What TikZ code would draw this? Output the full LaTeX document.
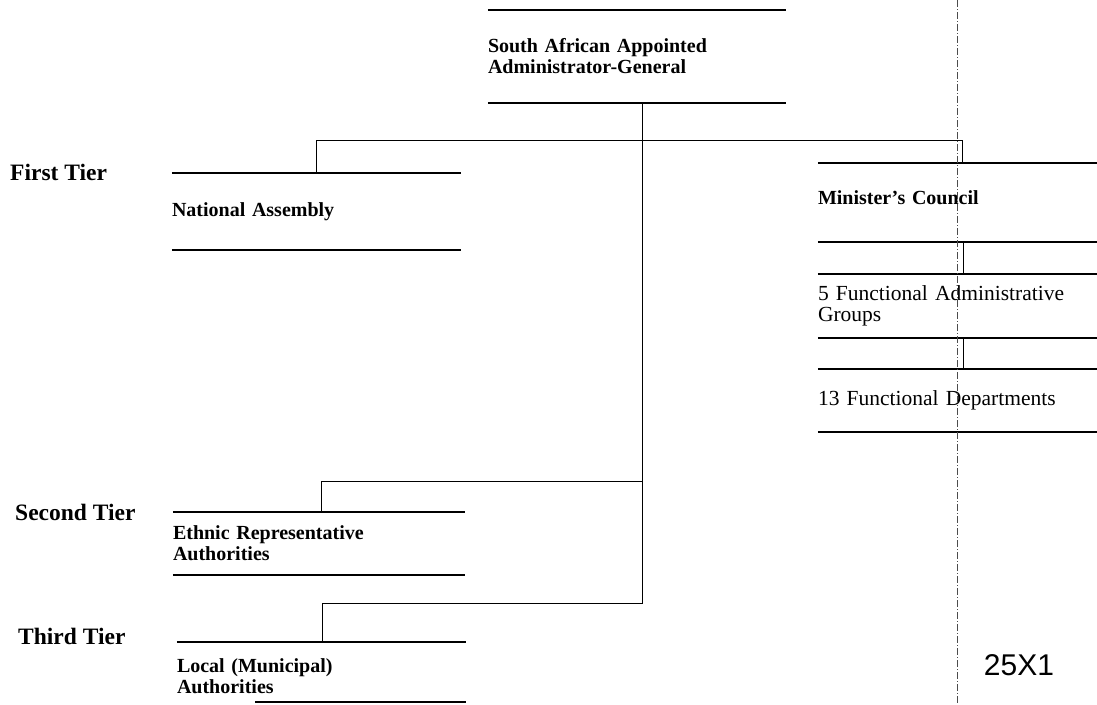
\documentclass[tikz,border=0pt]{standalone}
\usepackage{fontspec}
\setmainfont{Liberation Serif}
\newfontfamily\stampfont{Liberation Sans}
\usetikzlibrary{positioning}

\begin{document}
\begin{tikzpicture}[x=1pt, y=-1pt,
  unit/.style={inner sep=0pt, align=left, font=\bfseries\fontsize{20}{21}\selectfont},
  plainunit/.style={unit, font=\fontsize{21.5}{20.5}\selectfont},
  tier/.style={anchor=west, inner sep=0pt, font=\bfseries\fontsize{23.5}{25}\selectfont},
  bar/.style={line width=1.5pt},
  link/.style={line width=0.8pt},
  scanline/.style={line width=0.5pt, black!70, dash pattern=on 7pt off 2pt on 1pt off 2pt}]
  \useasboundingbox (0,0) rectangle (1097,704);
  % units
  \node[unit, text width=298, minimum height=93] (ag) at (637,56.5) {South African Appointed\\Administrator-General};
  \node[unit, text width=289, minimum height=77] (na) at (316.5,211.5) {National Assembly};
  \node[unit, text width=279, minimum height=79] (mc) at (957.5,202.5) {Minister's Council\rule[-10pt]{0pt}{10pt}};
  \node[plainunit, text width=279, minimum height=64] (fag) at (957.5,306) {5 Functional Administrative\\Groups};
  \node[plainunit, text width=279, minimum height=63] (fd) at (957.5,400.5) {13 Functional Departments};
  \node[unit, text width=292, minimum height=63] (era) at (319,543.5) {Ethnic Representative\\Authorities};
  \node[unit, text width=289, minimum height=60] (loc) at (321.5,672) {\rule{0pt}{23pt}Local (Municipal)\\Authorities};
  % tiers
  \node[tier] (t1) at (10,172) {First Tier};
  \node[tier] (t2) at (15,512) {Second Tier};
  \node[tier] (t3) at (18,636) {Third Tier};
  \node[font=\stampfont\fontsize{30}{30}\selectfont, inner sep=0pt] (stamp) at (1019,665) {25X1};
  % rules above and below each unit
  \foreach \u in {ag,na,mc,fag,fd,era}
    \draw[bar] (\u.north west) -- (\u.north east) (\u.south west) -- (\u.south east);
  \draw[bar] (loc.north west) -- (loc.north east);
  \draw[bar] (loc.south east) ++(-211,0) -- (loc.south east);
  % joints
  \coordinate (c1) at (316,140);
  \coordinate (c2) at (962,140);
  \coordinate (c3) at (321,481);
  \coordinate (c4) at (322,603);
  \coordinate (spine) at (642,603);
  \coordinate (rx) at (963,0);
  % connectors
  \draw[link] (na.north -| c1) -- (c1) -- (c2) -- (mc.north -| c2);
  \draw[link] (ag.south -| spine) -- (spine) -- (c4) -- (loc.north -| c4);
  \draw[link] (era.north -| c3) -- (c3) -- (c3 -| spine);
  \draw[link] (mc.south -| rx) -- (fag.north -| rx);
  \draw[link] (fag.south -| rx) -- (fd.north -| rx);
  % fold mark of the scan
  \draw[scanline] (957,0) -- (957,704);
\end{tikzpicture}
\end{document}
